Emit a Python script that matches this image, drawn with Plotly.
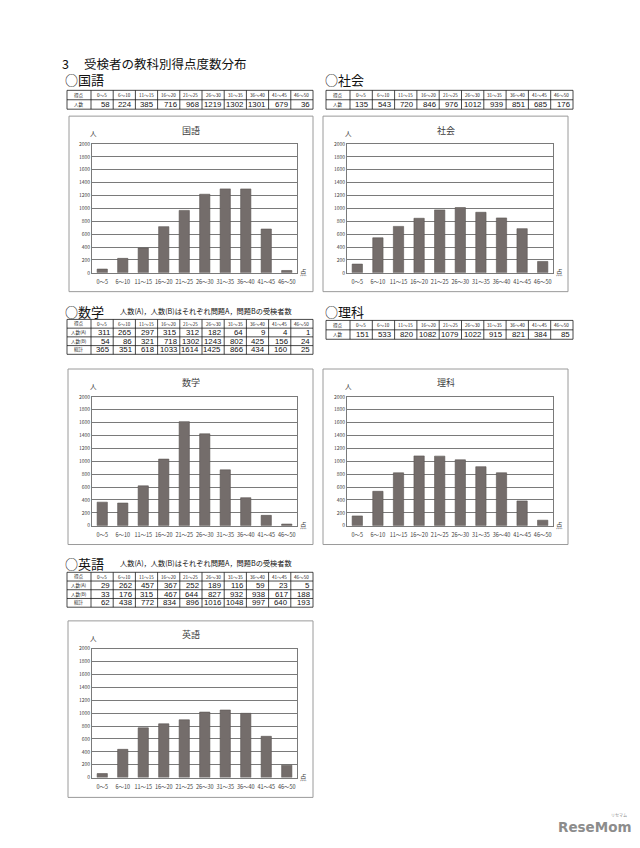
import plotly.graph_objects as go

# page offset (browser body margin is 8px)
OFF = 8
W, H = 640 - OFF, 848 - OFF
FONT = "Noto Sans CJK JP"

categories = ["0～5", "6～10", "11～15", "16～20", "21～25",
              "26～30", "31～35", "36～40", "41～45", "46～50"]

kokugo = [58, 224, 385, 716, 968, 1219, 1302, 1301, 679, 36]
shakai = [135, 543, 720, 846, 976, 1012, 939, 851, 685, 176]
sugaku_a = [311, 265, 297, 315, 312, 182, 64, 9, 4, 1]
sugaku_b = [54, 86, 321, 718, 1302, 1243, 802, 425, 156, 24]
sugaku_total = [365, 351, 618, 1033, 1614, 1425, 866, 434, 160, 25]
rika = [151, 533, 820, 1082, 1079, 1022, 915, 821, 384, 85]
eigo_a = [29, 262, 457, 367, 252, 189, 116, 59, 23, 5]
eigo_b = [33, 176, 315, 467, 644, 827, 932, 938, 617, 188]
eigo_total = [62, 438, 772, 834, 896, 1016, 1048, 997, 640, 193]

y_ticks = list(range(0, 2001, 200))


def X(px):
    return (px - OFF) / W


def Y(py):
    return 1 - (py - OFF) / H


fig = go.Figure()
annotations = []
shapes = []

BAR_COLOR = "#746d6b"
GRID = "#7a7a7a"


def txt(s, x, y, size, xanchor="left", color="#111111", family=FONT):
    annotations.append(dict(text=s, x=X(x), y=Y(y), xref="paper", yref="paper",
                            showarrow=False, xanchor=xanchor, yanchor="middle",
                            font=dict(family=family, size=size, color=color)))


charts = [
    ("国語", kokugo, (69, 113, 313, 290), (92, 141, 297, 271)),
    ("社会", shakai, (323, 113, 568, 290), (347, 141, 553, 271)),
    ("数学", sugaku_total, (68, 368, 313, 545), (92, 396, 297, 526)),
    ("理科", rika, (323, 368, 568, 545), (347, 396, 553, 526)),
    ("英語", eigo_total, (68, 622, 313, 800), (92, 650, 297, 780)),
]

for i, (name, vals, box, pl) in enumerate(charts):
    n = "" if i == 0 else str(i + 1)
    fig.add_trace(go.Bar(
        x=categories, y=vals, xaxis="x" + n, yaxis="y" + n,
        marker=dict(color=BAR_COLOR, line=dict(color="#5b5553", width=0.6)),
        width=0.5, showlegend=False, hoverinfo="x+y",
    ))
    fig.layout["xaxis" + n] = dict(
        domain=[X(pl[0]), X(pl[2])], anchor="y" + n,
        type="category", showline=True, linecolor=GRID, linewidth=0.8,
        mirror=True, ticks="", showgrid=False, ticklabelstandoff=4,
        tickfont=dict(family=FONT, size=5.5, color="#404040"),
        fixedrange=True,
    )
    fig.layout["yaxis" + n] = dict(
        domain=[Y(pl[3]), Y(pl[1])], anchor="x" + n,
        range=[0, 2000], tickvals=y_ticks, showline=True, linecolor=GRID,
        linewidth=0.8, mirror=True, showgrid=True, gridcolor=GRID,
        gridwidth=0.8, ticks="", zeroline=False,
        tickfont=dict(family=FONT, size=5, color="#404040"),
        fixedrange=True,
    )
    shapes.append(dict(type="rect", xref="paper", yref="paper",
                       x0=X(box[0]), x1=X(box[2]), y0=Y(box[3]), y1=Y(box[1]),
                       line=dict(color="#9a9a9a", width=1), layer="below"))
    txt(name, (pl[0] + pl[2]) / 2 - 4, box[1] + 14, 9, "center", "#404040")
    txt("人", pl[0] + 1, pl[1] - 11, 6.5, "center", "#404040")
    txt("点", pl[2] + 6, pl[3] - 1, 6.5, "center", "#404040")


def line(x0, y0, x1, y1):
    shapes.append(dict(type="line", xref="paper", yref="paper",
                       x0=X(x0), y0=Y(y0), x1=X(x1), y1=Y(y1),
                       line=dict(color="#1a1a1a", width=0.8)))


def add_table(x0, x1, ytop, row_labels, rows, row_h):
    header = ["得点"] + categories
    ncol = len(header)
    w0 = 24.0
    w = (x1 - x0 - w0) / (ncol - 1)
    edges = [x0] + [x0 + w0 + k * w for k in range(ncol)]
    nrows = len(row_labels) + 1
    ybot = ytop + row_h * nrows
    for k in range(nrows + 1):
        yy = ytop + k * row_h
        line(x0, yy, x1, yy)
    for e in edges:
        line(e, ytop, e, ybot)
    for j, h in enumerate(header):
        txt(h, (edges[j] + edges[j + 1]) / 2, ytop + row_h / 2, 4.6, "center", "#222222")
    for r, (lab, vals) in enumerate(zip(row_labels, rows)):
        yc = ytop + row_h * (r + 1.5)
        txt(lab, (edges[0] + edges[1]) / 2, yc, 4.6, "center", "#222222")
        for j, v in enumerate(vals):
            txt(str(v), edges[j + 2] - 1.2, yc, 7.8, "right", "#111111",
                "Liberation Sans")


add_table(67, 313, 87, ["人数"], [kokugo], 9.5)
add_table(326, 573, 87, ["人数"], [shakai], 9.5)
add_table(67, 313, 318, ["人数(A)", "人数(B)", "総計"],
          [sugaku_a, sugaku_b, sugaku_total], 8.8)
add_table(326, 573, 319, ["人数"], [rika], 9.5)
add_table(67, 313, 573, ["人数(A)", "人数(B)", "総計"],
          [eigo_a, eigo_b, eigo_total], 8.8)

txt("3", 60, 60, 12.5)
txt("受検者の教科別得点度数分布", 82, 60, 12.5)
txt("○国語", 63, 76.5, 13)
txt("○社会", 323, 76.5, 13)
txt("○数学", 63, 310, 13)
txt("○理科", 323, 310, 13)
txt("○英語", 63, 564, 13)
sub = "人数(A)，人数(B)はそれぞれ問題A，問題Bの受検者数"
txt(sub, 118, 310, 7.2)
txt(sub, 118, 564, 7.2)

txt("<b>ReseMom</b>", 595, 830, 13.5, "center", "#8c8c8c", "DejaVu Sans")
txt("リセマム", 619, 818, 4, "center", "#8c8c8c")

fig.update_layout(
    width=W, height=H, margin=dict(l=0, r=0, t=0, b=0),
    paper_bgcolor="white", plot_bgcolor="white",
    annotations=annotations, shapes=shapes, bargap=0.5,
    font=dict(family=FONT),
)

fig.write_html("out.html")
